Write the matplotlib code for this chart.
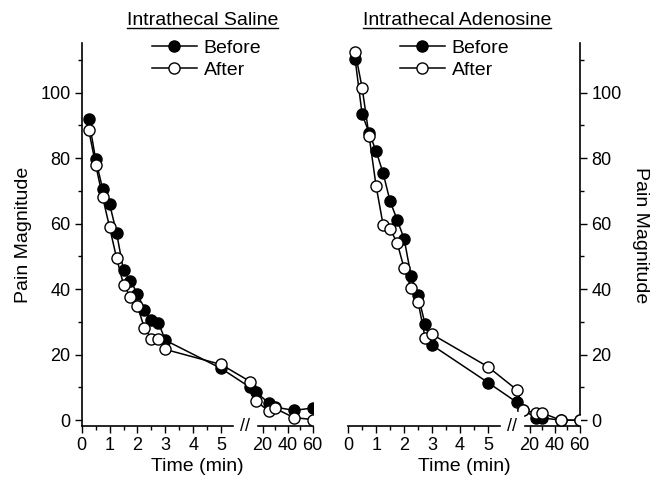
import numpy as np
import matplotlib
matplotlib.use("Agg")
from matplotlib import pyplot as plt
from matplotlib.ticker import FixedLocator, FixedFormatter
from matplotlib import transforms

plt.rcParams["font.family"] = ["Liberation Sans", "DejaVu Sans"]

# time points (min)
saline_t = [0.25, 0.5, 0.75, 1.0, 1.25, 1.5, 1.75, 2.0, 2.25, 2.5, 2.75, 3.0,
            5, 10, 15, 25, 30, 45, 60]
saline_before = [92.0, 79.6, 70.6, 66.0, 57.2, 45.7, 42.5, 38.6, 33.7, 30.5, 29.8, 24.4,
                 15.8, 10.0, 8.5, 5.2, 4.0, 3.0, 3.7]
saline_after = [88.6, 78.0, 68.1, 58.9, 49.5, 41.4, 37.6, 34.8, 28.1, 24.9, 24.7, 21.6,
                17.0, 11.8, 5.8, 2.7, 3.6, 0.8, 0.2]

aden_t = saline_t
aden_before = [110.1, 93.3, 87.7, 82.1, 75.4, 66.8, 61.2, 55.4, 44.0, 38.2, 29.3, 22.9,
               11.5, 5.4, 3.1, 0.7, 0.7, 0.0, 0.0]
aden_after = [112.3, 101.4, 86.6, 71.4, 59.6, 58.3, 54.2, 46.4, 40.3, 36.2, 25.2, 26.2,
              16.3, 9.2, 3.1, 2.2, 2.2, 0.0, 0.0]

major_t = [0, 1, 2, 3, 4, 5, 20, 40, 60]
minor_t = [0.5, 1.5, 2.5, 3.5, 4.5, 5.5, 10, 30, 50]
y_major = [0, 20, 40, 60, 80, 100]
y_minor = [10, 30, 50, 70, 90, 110]

# broken time axis: linear up to ~5.6 min, compressed after the break
SLOPE = 0.04475
OFFSET = 5.595
T1, T2 = 5.6, 10.0


def fwd(t):
    t = np.asarray(t, dtype=float)
    y2 = OFFSET + SLOPE * T2
    mid = T1 + (t - T1) * (y2 - T1) / (T2 - T1)
    return np.where(t <= T1, t, np.where(t <= T2, mid, OFFSET + SLOPE * t))


def inv(x):
    x = np.asarray(x, dtype=float)
    y2 = OFFSET + SLOPE * T2
    mid = T1 + (x - T1) * (T2 - T1) / (y2 - T1)
    return np.where(x <= T1, x, np.where(x <= y2, mid, (x - OFFSET) / SLOPE))


fig = plt.figure(figsize=(6.67, 4.82), dpi=100)
ax1 = fig.add_axes([0.1225, 0.116, 0.347, 0.794])
ax2 = fig.add_axes([0.522, 0.116, 0.348, 0.794])

panels = [
    (ax1, saline_t, saline_before, saline_after, "Intrathecal Saline", "left", 0.304),
    (ax2, aden_t, aden_before, aden_after, "Intrathecal Adenosine", "right", 0.685),
]

fig.canvas.draw()
renderer = fig.canvas.get_renderer()

for ax, t, before, after, title, side, tx in panels:
    ax.set_xscale("function", functions=(fwd, inv))
    ax.plot(t, before, "-o", color="black", mfc="black", mec="black",
            ms=8, lw=1.1, mew=1.0, label="Before", zorder=3)
    ax.plot(t, after, "-o", color="black", mfc="white", mec="black",
            ms=8, lw=1.1, mew=1.0, label="After", zorder=4)

    ax.set_xlim(0, 60.5)
    ax.set_ylim(-1.8, 115)

    ax.xaxis.set_major_locator(FixedLocator(major_t))
    ax.xaxis.set_major_formatter(FixedFormatter([str(v) for v in major_t]))
    ax.xaxis.set_minor_locator(FixedLocator(minor_t))
    ax.yaxis.set_major_locator(FixedLocator(y_major))
    ax.yaxis.set_minor_locator(FixedLocator(y_minor))

    ax.tick_params(which="major", length=5, width=1, labelsize=13, pad=3)
    ax.tick_params(which="minor", length=3, width=1)

    ax.spines["top"].set_visible(False)
    if side == "left":
        ax.spines["right"].set_visible(False)
        ax.set_ylabel("Pain Magnitude", fontsize=14, labelpad=6)
    else:
        ax.spines["left"].set_visible(False)
        ax.yaxis.tick_right()
        ax.yaxis.set_label_position("right")
        ax.set_ylabel("Pain Magnitude", fontsize=14, rotation=270, labelpad=20)
    for sp in ax.spines.values():
        sp.set_linewidth(1.2)

    ax.set_xlabel("Time (min)", fontsize=14, labelpad=3)

    # break marks on the time axis
    trans = transforms.blended_transform_factory(ax.transData, ax.transAxes)
    xb = inv(5.86)
    ax.text(xb, 0, "//", transform=trans, ha="center", va="center",
            fontsize=13, color="black", backgroundcolor="white",
            clip_on=False, zorder=5)

    # underlined panel title
    txt = fig.text(tx, 0.958, title, ha="center", va="center", fontsize=14)
    bb = txt.get_window_extent(renderer).transformed(fig.transFigure.inverted())
    fig.add_artist(plt.Line2D([bb.x0, bb.x1], [bb.y0 + 0.002, bb.y0 + 0.002],
                              color="black", lw=1, transform=fig.transFigure))

    ax.legend(loc="upper left", bbox_to_anchor=(0.27 if side == "left" else 0.19, 1.03),
              frameon=False, fontsize=14, handlelength=2.3, handletextpad=0.35,
              labelspacing=0.2, borderaxespad=0)

fig.savefig("out.png", dpi=100)
